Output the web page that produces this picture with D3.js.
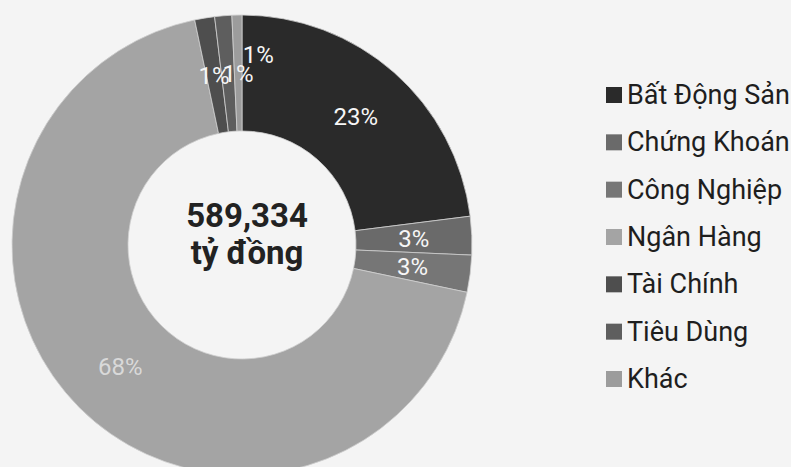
<!DOCTYPE html>
<html>
<head>
<meta charset="utf-8">
<script src="https://cdn.jsdelivr.net/npm/d3@7"></script>
<style>
  body { margin: 0; background: #f4f4f4; }
  svg { display: block; font-family: Roboto, "Noto Sans", sans-serif; }
</style>
</head>
<body>
<svg id="chart" width="791" height="467"></svg>
<script>
// Data (share of total, %)
const categories = ['Bất Động Sản', 'Chứng Khoán', 'Công Nghiệp', 'Ngân Hàng', 'Tài Chính', 'Tiêu Dùng', 'Khác'];
const shares = [23.0, 2.7, 2.6, 68.4, 1.4, 1.2, 0.7];
const totalLabel = ['589,334', 'tỷ đồng'];
const colors = ['#2a2a2a', '#6a6a6a', '#767676', '#a4a4a4', '#4e4e4e', '#5e5e5e', '#9c9c9c'];

const data = categories.map((name, i) => ({name, value: shares[i]}));
const total = d3.sum(shares);

const svg = d3.select('svg#chart');
const cx = 242, cy = 245;
const outer = 230, inner = 114;

const color = d3.scaleOrdinal().domain(categories).range(colors);

const pie = d3.pie().sort(null).value(d => d.value);
const arc = d3.arc().innerRadius(inner).outerRadius(outer);
const arcs = pie(data);

const g = svg.append('g').attr('transform', `translate(${cx},${cy})`);

g.selectAll('path')
  .data(arcs)
  .join('path')
  .attr('d', arc)
  .attr('fill', d => color(d.data.name))
  .attr('stroke', '#cfcfcf')
  .attr('stroke-width', 0.8);

// small labels overlap at the top, spread them a bit like the original
const nudge = {'Tiêu Dùng': [10, 0], 'Khác': [20, -19]};

g.selectAll('text.pct')
  .data(arcs)
  .join('text')
  .attr('class', 'pct')
  .attr('transform', d => {
    const [x, y] = arc.centroid(d);
    const [dx, dy] = nudge[d.data.name] || [0, 0];
    return `translate(${x + dx},${y + dy})`;
  })
  .attr('text-anchor', 'middle')
  .attr('dy', '0.36em')
  .attr('font-size', 24)
  .attr('fill', d => d.data.name === 'Ngân Hàng' ? '#d9d9d9' : '#f6f6f6')
  .text(d => Math.round(d.data.value / total * 100) + '%');

// centre total
g.append('text')
  .attr('x', 5).attr('y', -18)
  .attr('text-anchor', 'middle')
  .attr('font-size', 33).attr('font-weight', 'bold')
  .attr('fill', '#222')
  .text(totalLabel[0]);
g.append('text')
  .attr('x', 5).attr('y', 19)
  .attr('text-anchor', 'middle')
  .attr('font-size', 33).attr('font-weight', 'bold')
  .attr('fill', '#222')
  .text(totalLabel[1]);

// legend
const ly = d3.scalePoint().domain(categories).range([104, 388]);
const legend = svg.append('g');
const item = legend.selectAll('g')
  .data(categories)
  .join('g')
  .attr('transform', d => `translate(606,${ly(d)})`);

item.append('rect')
  .attr('x', 0).attr('y', -17)
  .attr('width', 16).attr('height', 16)
  .attr('fill', d => color(d));

item.append('text')
  .attr('x', 21).attr('y', 0)
  .attr('font-size', 27)
  .attr('fill', '#1e1e1e')
  .text(d => d);
</script>
</body>
</html>
